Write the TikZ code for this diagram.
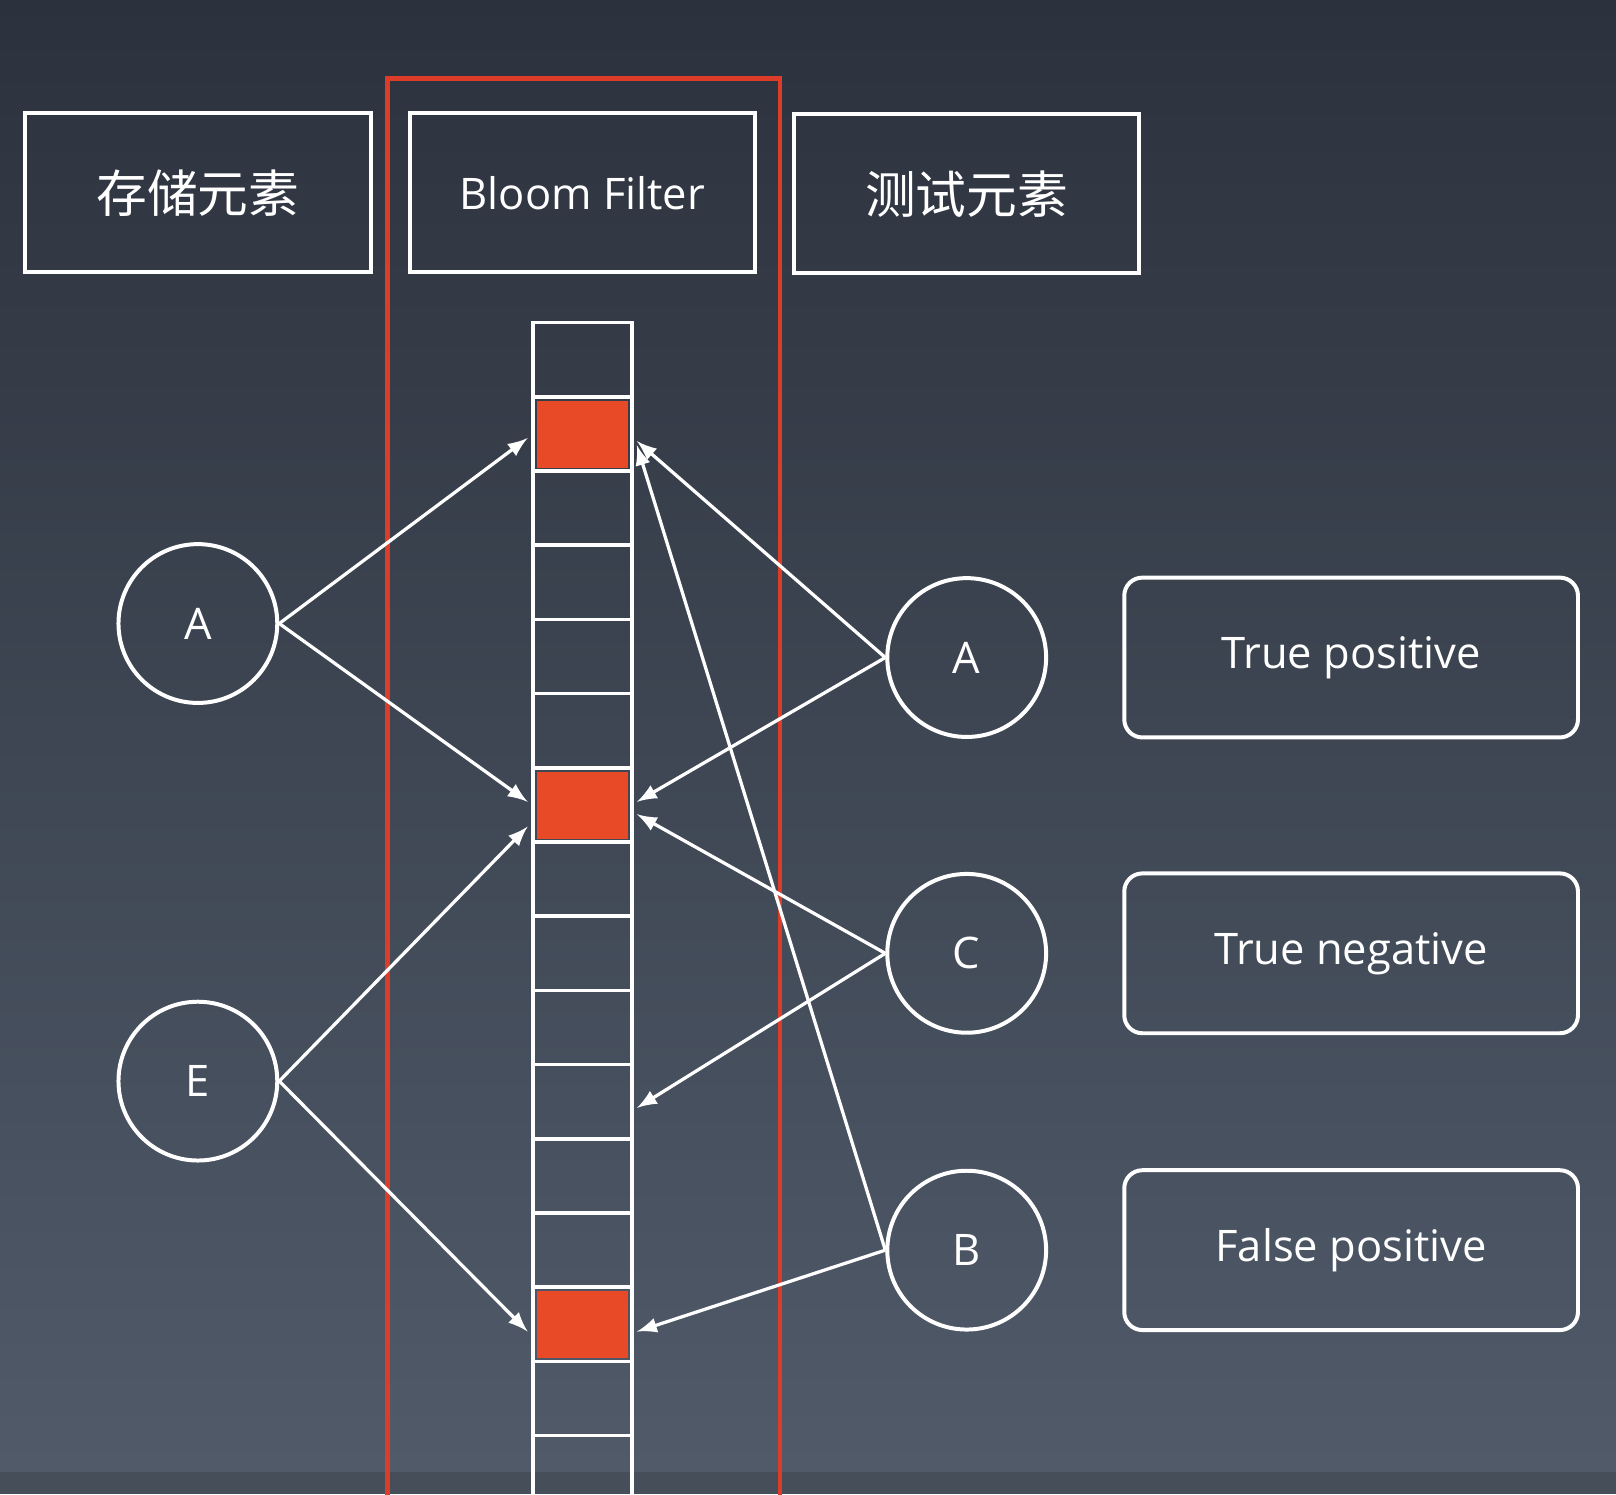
\documentclass[tikz,border=0pt]{standalone}
\usepackage{fontspec}
\setmainfont{Open Sans}
\newfontfamily\cjk{Noto Sans CJK SC}
\definecolor{bgtop}{RGB}{44,50,61}
\definecolor{bgbot}{RGB}{80,90,105}
\definecolor{bgstrip}{RGB}{70,78,90}
\definecolor{frame}{RGB}{220,60,40}
\definecolor{bitred}{RGB}{232,74,39}
\begin{document}
\begin{tikzpicture}[x=0.01cm,y=-0.01cm,
  hdr/.style={draw=white,line width=1.1pt,minimum width=3.35cm,minimum height=1.54cm,text=white},
  circ/.style={circle,draw=white,line width=1.1pt,minimum size=1.54cm,text=white,font=\fontsize{12}{12}\selectfont},
  lbl/.style={draw=white,line width=1.1pt,rounded corners=5pt,minimum width=4.4cm,minimum height=1.55cm,text=white,font=\fontsize{12}{12}\selectfont},
  arr/.style={draw=white,line width=0.9pt,-latex},
  cell/.style={draw=white,line width=1pt}]
\useasboundingbox (0,0) rectangle (1568,1450);
\shade[top color=bgtop,bottom color=bgbot] (0,0) rectangle (1568,1428);
\fill[bgstrip] (0,1428) rectangle (1568,1450);
\node[hdr,font=\cjk\fontsize{14}{14}\selectfont] (h1) at (192,187) {存储元素};
\node[hdr,font=\fontsize{12}{12}\selectfont] (h2) at (565,187) {Bloom Filter};
\node[hdr,font=\cjk\fontsize{14}{14}\selectfont] (h3) at (938,188) {测试元素};
\draw[frame,line width=1.2pt] (376,1460) -- (376,76) -- (757,76) -- (757,1460);
\foreach \i in {0,...,15} {
  \draw[cell] (517,313+\i*72) rectangle (613,385+\i*72);
}
\foreach \i in {1,6,13} {
  \fill[bitred] (521,317+\i*72) rectangle (609,382+\i*72);
}
\coordinate (r1l) at (512,425); \coordinate (r1r) at (618,428);
\coordinate (r2l) at (512,778); \coordinate (r2r) at (618,778);
\coordinate (r2lb) at (512,802); \coordinate (r2rb) at (618,790);
\coordinate (c12) at (618,1075);
\coordinate (r3l) at (512,1292); \coordinate (r3r) at (618,1292);
\coordinate (r1rb) at (618,432);
\node[circ] (A) at (192,605) {A};
\node[circ] (E) at (192,1049) {E};
\node[circ] (TA) at (938,638) {A};
\node[circ] (TC) at (938,925) {C};
\node[circ] (TB) at (938,1213) {B};
\node[lbl] (l1) at (1311,638) {True positive};
\node[lbl] (l2) at (1311,925) {True negative};
\node[lbl] (l3) at (1311,1213) {False positive};
\draw[arr] (A.east) -- (r1l); \draw[arr] (A.east) -- (r2l);
\draw[arr] (E.east) -- (r2lb); \draw[arr] (E.east) -- (r3l);
\draw[arr] (TA.west) -- (r1r); \draw[arr] (TA.west) -- (r2r);
\draw[arr] (TC.west) -- (r2rb); \draw[arr] (TC.west) -- (c12);
\draw[arr] (TB.west) -- (r1rb); \draw[arr] (TB.west) -- (r3r);
\end{tikzpicture}
\end{document}
